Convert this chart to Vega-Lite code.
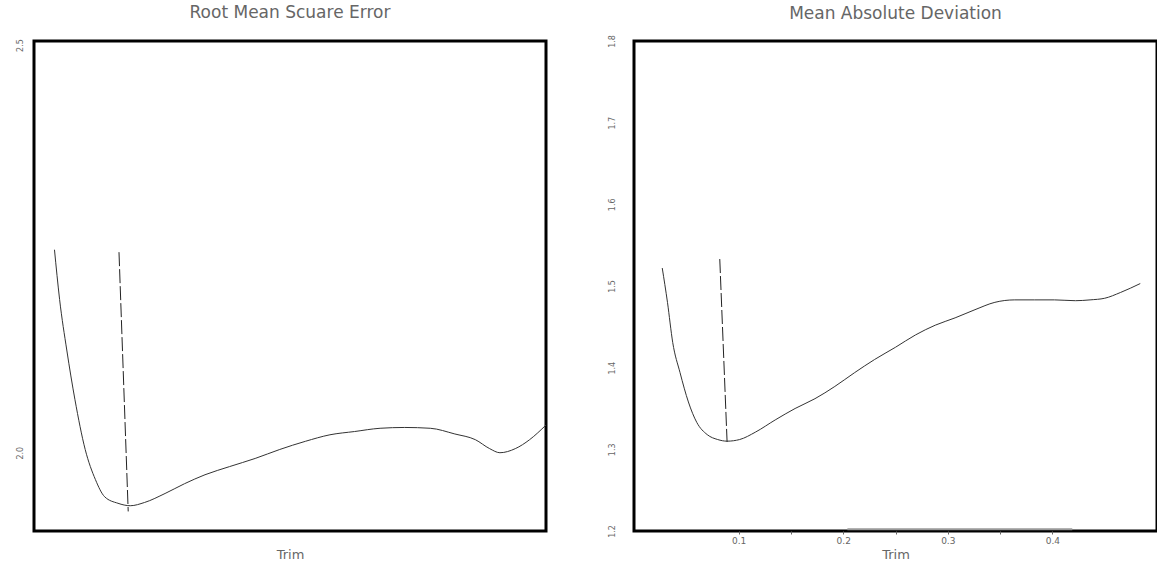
{
  "$schema": "https://vega.github.io/schema/vega-lite/v6.json",
  "background": "white",
  "padding": {"left": 5, "top": 2, "right": 0, "bottom": 0},
  "spacing": 56,
  "config": {
    "view": {"stroke": "black", "strokeWidth": 3},
    "title": {"font": "DejaVu Sans", "fontSize": 17, "fontWeight": "normal", "color": "#666", "offset": 17},
    "axis": {"labelFont": "DejaVu Sans", "labelColor": "#666", "titleFont": "DejaVu Sans", "titleColor": "#666", "titleFontWeight": "normal", "grid": false, "domain": false}
  },
  "datasets": {
    "rmse": [
      {"t": 0.020, "v": 2.249}, {"t": 0.025, "v": 2.188}, {"t": 0.032, "v": 2.126}, {"t": 0.040, "v": 2.065},
      {"t": 0.050, "v": 2.004}, {"t": 0.060, "v": 1.967}, {"t": 0.069, "v": 1.946}, {"t": 0.082, "v": 1.938},
      {"t": 0.094, "v": 1.935}, {"t": 0.108, "v": 1.939}, {"t": 0.128, "v": 1.950}, {"t": 0.147, "v": 1.962},
      {"t": 0.167, "v": 1.973}, {"t": 0.191, "v": 1.983}, {"t": 0.216, "v": 1.993}, {"t": 0.240, "v": 2.004},
      {"t": 0.265, "v": 2.014}, {"t": 0.289, "v": 2.022}, {"t": 0.313, "v": 2.026}, {"t": 0.338, "v": 2.030},
      {"t": 0.362, "v": 2.031}, {"t": 0.387, "v": 2.030}, {"t": 0.411, "v": 2.023}, {"t": 0.431, "v": 2.016},
      {"t": 0.445, "v": 2.005}, {"t": 0.455, "v": 2.000}, {"t": 0.470, "v": 2.005}, {"t": 0.484, "v": 2.016},
      {"t": 0.500, "v": 2.034}
    ],
    "rmseMark": [{"t": 0.083, "v": 2.246}, {"t": 0.092, "v": 1.928}],
    "mad": [
      {"t": 0.027, "v": 1.522}, {"t": 0.032, "v": 1.480}, {"t": 0.037, "v": 1.431}, {"t": 0.044, "v": 1.394},
      {"t": 0.052, "v": 1.358}, {"t": 0.060, "v": 1.333}, {"t": 0.070, "v": 1.318}, {"t": 0.080, "v": 1.312},
      {"t": 0.089, "v": 1.310}, {"t": 0.101, "v": 1.312}, {"t": 0.116, "v": 1.321}, {"t": 0.135, "v": 1.336},
      {"t": 0.154, "v": 1.350}, {"t": 0.173, "v": 1.362}, {"t": 0.192, "v": 1.377}, {"t": 0.211, "v": 1.394},
      {"t": 0.230, "v": 1.410}, {"t": 0.250, "v": 1.425}, {"t": 0.269, "v": 1.440}, {"t": 0.288, "v": 1.452},
      {"t": 0.307, "v": 1.461}, {"t": 0.326, "v": 1.471}, {"t": 0.345, "v": 1.480}, {"t": 0.364, "v": 1.483},
      {"t": 0.383, "v": 1.483}, {"t": 0.402, "v": 1.483}, {"t": 0.422, "v": 1.482}, {"t": 0.436, "v": 1.483},
      {"t": 0.450, "v": 1.485}, {"t": 0.465, "v": 1.492}, {"t": 0.484, "v": 1.503}
    ],
    "madMark": [{"t": 0.082, "v": 1.533}, {"t": 0.089, "v": 1.309}],
    "madBase": [{"t": 0.204, "v": 1.2022}, {"t": 0.419, "v": 1.2022}]
  },
  "hconcat": [
    {
      "title": "Root Mean Scuare Error",
      "width": 512,
      "height": 490,
      "layer": [
        {
          "data": {"name": "rmse"},
          "mark": {"type": "line", "color": "#333", "strokeWidth": 1, "interpolate": "monotone"},
          "encoding": {
            "x": {"field": "t", "type": "quantitative", "scale": {"domain": [0, 0.5], "nice": false, "zero": false},
                  "axis": {"title": "Trim", "titleFontSize": 13, "titlePadding": 17, "labels": false, "ticks": false}},
            "y": {"field": "v", "type": "quantitative", "scale": {"domain": [1.904, 2.505], "nice": false, "zero": false},
                  "axis": {"title": null, "values": [2.0, 2.5], "format": ".1f", "labelAngle": -90, "labelFontSize": 8, "tickSize": 0, "labelPadding": 10, "minExtent": 27}}
          }
        },
        {
          "data": {"name": "rmseMark"},
          "mark": {"type": "line", "color": "#222", "strokeWidth": 1, "strokeDash": [14, 3]},
          "encoding": {
            "x": {"field": "t", "type": "quantitative"},
            "y": {"field": "v", "type": "quantitative"}
          }
        }
      ]
    },
    {
      "title": {"text": "Mean Absolute Deviation", "offset": 12},
      "width": 523,
      "height": 490,
      "layer": [
        {
          "data": {"name": "mad"},
          "mark": {"type": "line", "color": "#333", "strokeWidth": 1, "interpolate": "monotone"},
          "encoding": {
            "x": {"field": "t", "type": "quantitative", "scale": {"domain": [0, 0.5], "nice": false, "zero": false},
                  "axis": {"title": "Trim", "titleFontSize": 13, "titlePadding": 3, "values": [0.1, 0.15, 0.2, 0.25, 0.3, 0.35, 0.4], "format": ".2~f",
                           "labelExpr": "indexof(['0.1','0.2','0.3','0.4'], datum.label) >= 0 ? datum.label : ''", "labelFontSize": 9, "tickSize": 3, "tickColor": "#666", "labelPadding": 2}},
            "y": {"field": "v", "type": "quantitative", "scale": {"domain": [1.2, 1.8], "nice": false, "zero": false},
                  "axis": {"title": null, "values": [1.2, 1.3, 1.4, 1.5, 1.6, 1.7, 1.8], "format": ".1f", "labelAngle": -90, "labelFontSize": 8, "tickSize": 0, "labelPadding": 18}}
          }
        },
        {
          "data": {"name": "madMark"},
          "mark": {"type": "line", "color": "#222", "strokeWidth": 1, "strokeDash": [14, 3]},
          "encoding": {
            "x": {"field": "t", "type": "quantitative"},
            "y": {"field": "v", "type": "quantitative"}
          }
        },
        {
          "data": {"name": "madBase"},
          "mark": {"type": "line", "color": "#999", "strokeWidth": 2},
          "encoding": {
            "x": {"field": "t", "type": "quantitative"},
            "y": {"field": "v", "type": "quantitative"}
          }
        }
      ]
    }
  ]
}
